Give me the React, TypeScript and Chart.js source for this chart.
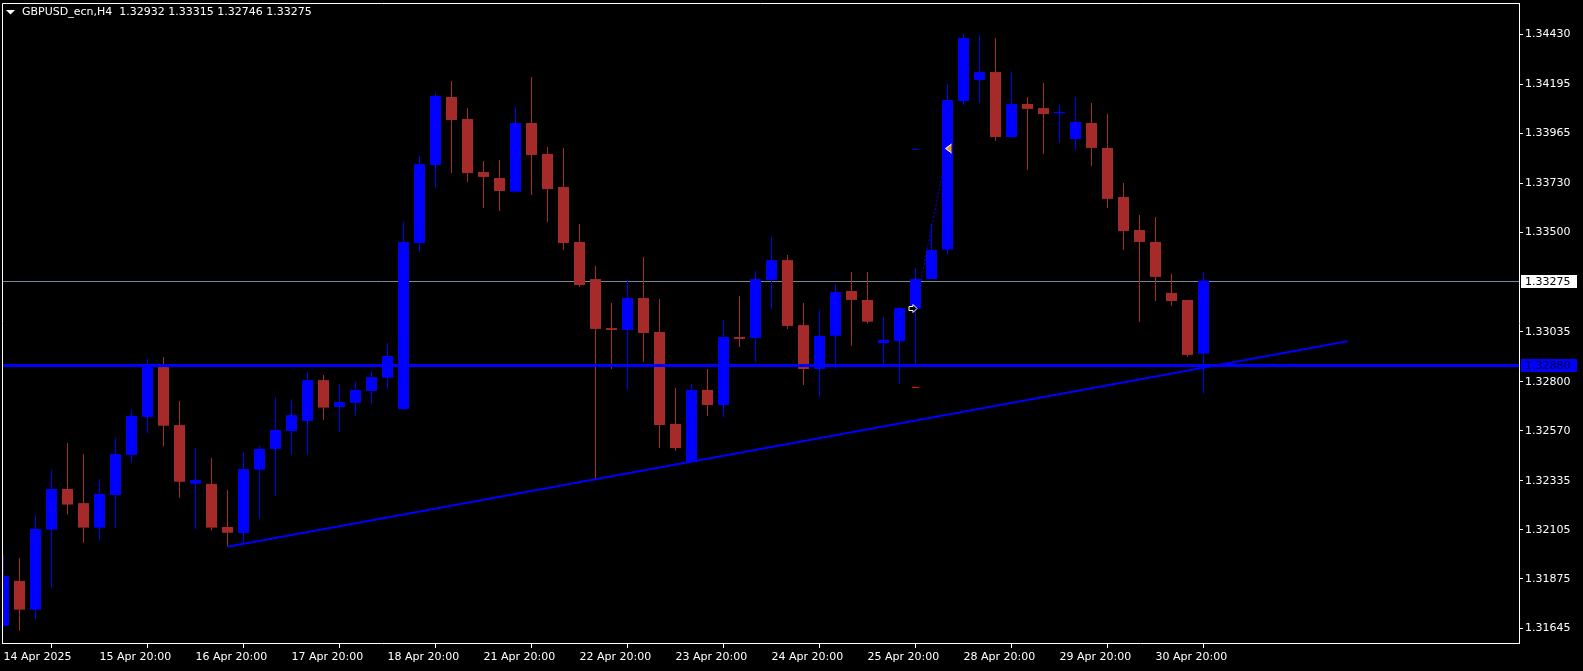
import React, { useEffect, useRef } from "react";
import { Chart, registerables } from "chart.js";

Chart.register(...registerables);

// ---- data ----
const titleSymbol = "GBPUSD_ecn,H4";
const titleOHLC = ["1.32932", "1.33315", "1.32746", "1.33275"];

const openP = [
  1.31656, 1.31866, 1.31731, 1.32106, 1.32297, 1.32231, 1.32116, 1.32269, 1.32457, 1.32635,
  1.32869, 1.32597, 1.32322, 1.32321, 1.32119, 1.32091, 1.32388, 1.32485, 1.32569, 1.32616,
  1.32808, 1.32682, 1.32701, 1.32757, 1.32819, 1.32672, 1.33451, 1.33817, 1.34136, 1.34033,
  1.33784, 1.33756, 1.33692, 1.34014, 1.33869, 1.33714, 1.33456, 1.33282, 1.33052, 1.33043,
  1.33193, 1.33034, 1.32602, 1.32424, 1.32762, 1.32691, 1.33010, 1.33005, 1.33278, 1.33371,
  1.33066, 1.32860, 1.33016, 1.33226, 1.33184, 1.32982, 1.32991, 1.33143, 1.33282, 1.33420,
  1.34117, 1.34216, 1.34253, 1.33948, 1.34103, 1.34084, 1.34060, 1.33939, 1.34014, 1.33897,
  1.33667, 1.33512, 1.33456, 1.33217, 1.33184, 1.32932,
];
const highP = [
  1.31991, 1.31973, 1.32175, 1.32386, 1.32513, 1.32461, 1.32344, 1.32536, 1.32668, 1.32907,
  1.32916, 1.32710, 1.32489, 1.32443, 1.32292, 1.32471, 1.32499, 1.32727, 1.32718, 1.32846,
  1.32832, 1.32790, 1.32799, 1.32851, 1.32982, 1.33550, 1.33859, 1.34155, 1.34211, 1.34084,
  1.33836, 1.33840, 1.34089, 1.34230, 1.33901, 1.33897, 1.33540, 1.33343, 1.33170, 1.33278,
  1.33385, 1.33188, 1.32771, 1.32790, 1.32860, 1.33090, 1.33202, 1.33320, 1.33479, 1.33395,
  1.33170, 1.33137, 1.33259, 1.33315, 1.33315, 1.33104, 1.33150, 1.33334, 1.33540, 1.34197,
  1.34432, 1.34427, 1.34413, 1.34253, 1.34136, 1.34202, 1.34098, 1.34136, 1.34108, 1.34056,
  1.33733, 1.33582, 1.33573, 1.33306, 1.33184, 1.33315,
];
const lowP = [
  1.31650, 1.31632, 1.31687, 1.31834, 1.32177, 1.32045, 1.32055, 1.32116, 1.32420, 1.32560,
  1.32496, 1.32256, 1.32110, 1.32102, 1.32026, 1.32039, 1.32158, 1.32266, 1.32458, 1.32458,
  1.32621, 1.32566, 1.32641, 1.32697, 1.32766, 1.32668, 1.33410, 1.33710, 1.33779, 1.33737,
  1.33615, 1.33601, 1.33690, 1.33676, 1.33550, 1.33418, 1.33245, 1.32344, 1.32860, 1.32762,
  1.32893, 1.32489, 1.32475, 1.32420, 1.32640, 1.32635, 1.32963, 1.32893, 1.33141, 1.33048,
  1.32785, 1.32729, 1.32860, 1.32969, 1.33073, 1.32879, 1.32790, 1.32879, 1.33282, 1.33401,
  1.34098, 1.34108, 1.33930, 1.33948, 1.33794, 1.33869, 1.33920, 1.33887, 1.33812, 1.33615,
  1.33418, 1.33081, 1.33179, 1.33156, 1.32916, 1.32746,
];
const closeP = [
  1.31889, 1.31731, 1.32110, 1.32297, 1.32224, 1.32116, 1.32274, 1.32461, 1.32640, 1.32871,
  1.32594, 1.32331, 1.32339, 1.32116, 1.32092, 1.32391, 1.32485, 1.32574, 1.32644, 1.32808,
  1.32679, 1.32705, 1.32762, 1.32822, 1.32921, 1.33456, 1.33822, 1.34141, 1.34028, 1.33779,
  1.33761, 1.33695, 1.34014, 1.33864, 1.33704, 1.33451, 1.33254, 1.33048, 1.33043, 1.33193,
  1.33029, 1.32597, 1.32489, 1.32762, 1.32691, 1.33010, 1.33001, 1.33282, 1.33371, 1.33062,
  1.32860, 1.33015, 1.33221, 1.33184, 1.33082, 1.32996, 1.33146, 1.33282, 1.33418, 1.34122,
  1.34413, 1.34253, 1.33948, 1.34103, 1.34080, 1.34056, 1.34066, 1.34019, 1.33897, 1.33658,
  1.33507, 1.33456, 1.33292, 1.33179, 1.32926, 1.33275,
];

const xTickIndex = [0, 6, 12, 18, 24, 30, 36, 42, 48, 54, 60, 66, 72];
const xTickLabels = [
  "14 Apr 2025", "15 Apr 20:00", "16 Apr 20:00", "17 Apr 20:00", "18 Apr 20:00",
  "21 Apr 20:00", "22 Apr 20:00", "23 Apr 20:00", "24 Apr 20:00", "25 Apr 20:00",
  "28 Apr 20:00", "29 Apr 20:00", "30 Apr 20:00",
];
const yTickValues = [
  1.34430, 1.34195, 1.33965, 1.33730, 1.33500, 1.33035, 1.32800,
  1.32570, 1.32335, 1.32105, 1.31875, 1.31645,
];

const bidPrice = 1.33275;
const levelPrice = 1.3288;
const trendX = [14, 84];
const trendY = [1.32026, 1.3299];
const tradeX = [57, 59];
const tradeY = [1.33146, 1.33899];
const takeProfit = 1.33891;
const stopLoss = 1.32776;

// axis ranges
const xMin = -0.09375;
const xMax = 94.71875;
const yMin = 1.315747;
const yMax = 1.345769;

const BULL = "#0000FF";
const BEAR = "#A52A2A";
const FONT = "DejaVu Sans";

const mtPlugin = {
  id: "mtOverlay",
  beforeDatasetsDraw(chart: any) {
    const { ctx, chartArea, scales } = chart;
    const py = Math.round(scales.y.getPixelForValue(bidPrice)) + 0.5;
    ctx.save();
    ctx.strokeStyle = "rgb(119,136,153)";
    ctx.lineWidth = 1;
    ctx.beginPath();
    ctx.moveTo(chartArea.left, py);
    ctx.lineTo(chartArea.right, py);
    ctx.stroke();
    ctx.restore();
  },
  afterDatasetsDraw(chart: any) {
    const { ctx, chartArea, scales } = chart;
    const x = scales.x;
    const y = scales.y;
    ctx.save();
    // horizontal level
    const ly = Math.round(y.getPixelForValue(levelPrice));
    ctx.fillStyle = BULL;
    ctx.fillRect(chartArea.left, ly - 1, chartArea.right - chartArea.left, 3);

    // trade markers
    const px = Math.round(x.getPixelForValue(tradeX[0]));
    ctx.fillStyle = BULL;
    ctx.fillRect(px - 4, Math.round(y.getPixelForValue(takeProfit)), 7, 1);
    ctx.fillStyle = "#FF0000";
    ctx.fillRect(px - 4, Math.round(y.getPixelForValue(stopLoss)), 7, 1);

    // open arrow (white outline)
    const ax = px - 3;
    const ay = Math.round(y.getPixelForValue(tradeY[0])) + 0.5;
    ctx.beginPath();
    ctx.moveTo(ax - 4, ay - 2);
    ctx.lineTo(ax, ay - 2);
    ctx.lineTo(ax, ay - 4);
    ctx.lineTo(ax + 4, ay);
    ctx.lineTo(ax, ay + 4);
    ctx.lineTo(ax, ay + 2);
    ctx.lineTo(ax - 4, ay + 2);
    ctx.closePath();
    ctx.fillStyle = "#000";
    ctx.fill();
    ctx.strokeStyle = "#fff";
    ctx.lineWidth = 1;
    ctx.stroke();

    // close triangle (orange, pointing left)
    const cx = x.getPixelForValue(tradeX[1]);
    const cy = Math.round(y.getPixelForValue(tradeY[1])) + 0.5;
    ctx.beginPath();
    ctx.moveTo(cx - 2, cy);
    ctx.lineTo(cx + 4, cy - 4.5);
    ctx.lineTo(cx + 4, cy + 4.5);
    ctx.closePath();
    ctx.fillStyle = "#E8A317";
    ctx.fill();
    ctx.strokeStyle = "#fff";
    ctx.beginPath();
    ctx.moveTo(cx + 4, cy - 4.5);
    ctx.lineTo(cx - 2, cy);
    ctx.lineTo(cx + 4, cy + 4.5);
    ctx.stroke();
    ctx.restore();
  },
  afterDraw(chart: any) {
    const { ctx, chartArea, scales } = chart;
    const y = scales.y;
    ctx.save();
    // frame (left & top)
    ctx.strokeStyle = "#fff";
    ctx.lineWidth = 1;
    ctx.beginPath();
    ctx.moveTo(chartArea.left + 0.5, chartArea.bottom);
    ctx.lineTo(chartArea.left + 0.5, chartArea.top + 0.5);
    ctx.lineTo(chartArea.right, chartArea.top + 0.5);
    ctx.stroke();

    // title
    ctx.fillStyle = "#fff";
    ctx.beginPath();
    ctx.moveTo(6, 10);
    ctx.lineTo(15, 10);
    ctx.lineTo(10.5, 14.5);
    ctx.closePath();
    ctx.fill();
    ctx.font = `11px "${FONT}"`;
    ctx.textBaseline = "middle";
    ctx.textAlign = "left";
    ctx.fillText(titleSymbol + "  " + titleOHLC.join(" "), 22, 12);

    // price labels on the axis
    const drawBox = (price: number, bg: string, fg: string) => {
      const py = Math.round(y.getPixelForValue(price));
      ctx.fillStyle = bg;
      ctx.fillRect(chartArea.right + 2, py - 6, 56, 13);
      ctx.fillStyle = fg;
      ctx.fillText(price.toFixed(5), chartArea.right + 6, py + 1);
    };
    drawBox(bidPrice, "#fff", "#000");
    drawBox(levelPrice, BULL, "#000030");
    ctx.restore();
  },
};

export default function App() {
  const canvasRef = useRef<HTMLCanvasElement | null>(null);

  useEffect(() => {
    const canvas = canvasRef.current;
    if (!canvas) return;
    const bodyColors = openP.map((o, i) => (closeP[i] >= o ? BULL : BEAR));

    const chart = new Chart(canvas, {
      data: {
        datasets: [
          {
            type: "line",
            label: "trend",
            data: trendX.map((v, i) => ({ x: v, y: trendY[i] })),
            borderColor: BULL,
            borderWidth: 2,
            pointRadius: 0,
            order: 0,
          },
          {
            type: "bar",
            label: "body",
            data: openP.map((o, i) => ({ x: i, y: [o, closeP[i]] })),
            backgroundColor: bodyColors,
            barThickness: 11,
            grouped: false,
            minBarLength: 1,
            inflateAmount: 0,
            borderWidth: 0,
            order: 1,
          },
          {
            type: "bar",
            label: "wick",
            data: lowP.map((l, i) => ({ x: i, y: [l, highP[i]] })),
            backgroundColor: bodyColors,
            barThickness: 1,
            grouped: false,
            inflateAmount: 0,
            borderWidth: 0,
            order: 2,
          },
          {
            type: "line",
            label: "trade",
            data: tradeX.map((v, i) => ({ x: v, y: tradeY[i] })),
            borderColor: BULL,
            borderWidth: 1,
            borderDash: [2, 2],
            pointRadius: 0,
            order: 3,
          },
        ] as any,
      },
      options: {
        animation: false,
        responsive: false,
        devicePixelRatio: 1,
        events: [],
        layout: { padding: { left: 2, top: 3, right: 0, bottom: 0 } },
        plugins: {
          legend: { display: false },
          tooltip: { enabled: false },
          title: { display: false },
        },
        scales: {
          x: {
            type: "linear",
            position: "bottom",
            min: xMin,
            max: xMax,
            bounds: "data",
            offset: false,
            afterBuildTicks: (scale: any) => {
              scale.ticks = xTickIndex.map((v) => ({ value: v }));
            },
            afterFit: (scale: any) => {
              scale.height = 28;
              scale.paddingLeft = 0;
              scale.paddingRight = 0;
            },
            ticks: {
              autoSkip: false,
              maxRotation: 0,
              minRotation: 0,
              align: "start",
              padding: 3,
              color: "#fff",
              font: { family: FONT, size: 11 },
              callback: (value: any) => {
                const k = xTickIndex.indexOf(Number(value));
                return k >= 0 ? xTickLabels[k] : "";
              },
            },
            grid: {
              drawOnChartArea: false,
              drawTicks: true,
              tickLength: 5,
              color: "#fff",
            },
            border: { display: true, color: "#fff", width: 1 },
          },
          y: {
            type: "linear",
            position: "right",
            min: yMin,
            max: yMax,
            bounds: "data",
            afterBuildTicks: (scale: any) => {
              scale.ticks = yTickValues.map((v) => ({ value: v }));
            },
            afterFit: (scale: any) => {
              scale.width = 64;
              scale.paddingTop = 0;
              scale.paddingBottom = 0;
            },
            ticks: {
              autoSkip: false,
              padding: 2,
              color: "#fff",
              font: { family: FONT, size: 11 },
              callback: (value: any) => Number(value).toFixed(5),
            },
            grid: {
              drawOnChartArea: false,
              drawTicks: true,
              tickLength: 4,
              color: "#fff",
            },
            border: { display: true, color: "#fff", width: 1 },
          },
        },
      } as any,
      plugins: [mtPlugin],
    });
    return () => chart.destroy();
  }, []);

  return (
    <div
      style={{
        position: "fixed",
        left: 0,
        top: 0,
        width: 1583,
        height: 671,
        background: "#000",
        overflow: "hidden",
      }}
    >
      <canvas ref={canvasRef} width={1583} height={671} style={{ display: "block" }} />
    </div>
  );
}
